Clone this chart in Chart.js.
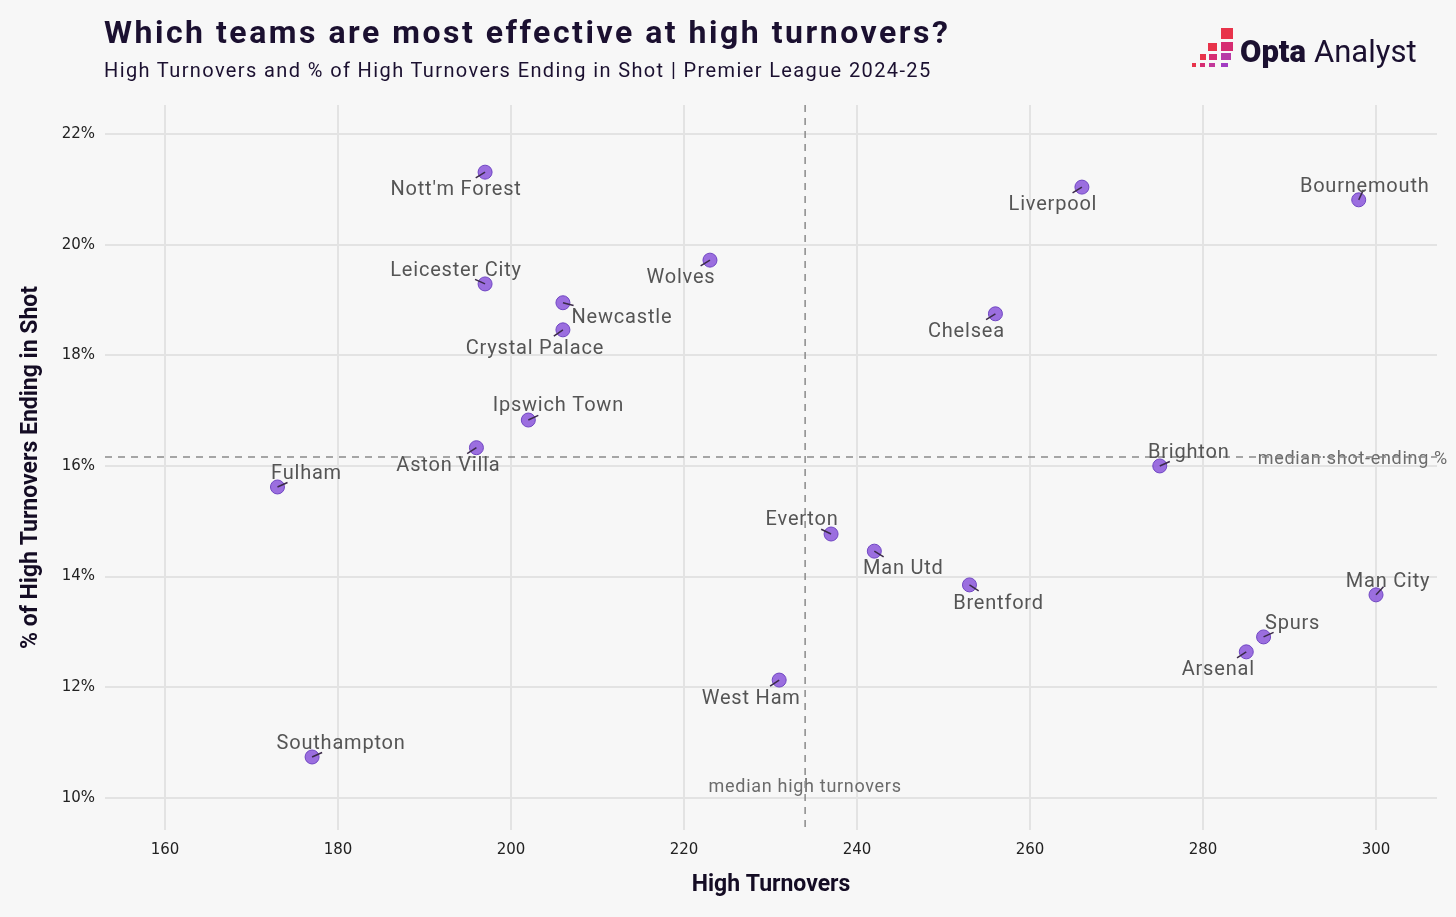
<!DOCTYPE html>
<html>
<head>
<meta charset="utf-8">
<script src="https://cdn.jsdelivr.net/npm/chart.js@4"></script>
<style>
html, body { margin: 0; padding: 0; background: #f7f7f7; }
#wrap { position: relative; width: 1456px; height: 917px; overflow: hidden; }
#graficoTurnovers { position: absolute; left: 0; top: 0; }
h1 { position: absolute; left: 104px; top: 16px; margin: 0; font: 700 32px/1 Roboto, sans-serif; color: #1b1030; white-space: nowrap; }
.sub { position: absolute; left: 104px; top: 60px; font: 400 20px/1 Roboto, sans-serif; color: #1b1030; white-space: nowrap; }
.logo { position: absolute; left: 1190px; top: 26px; }
</style>
</head>
<body>
<div id="wrap">
  <canvas id="graficoTurnovers" width="1456" height="917"></canvas>
  <h1 id="titulo" data-w="846">Which teams are most effective at high turnovers?</h1>
  <div class="sub" id="subtitulo" data-w="828">High Turnovers and % of High Turnovers Ending in Shot | Premier League 2024-25</div>
  <svg class="logo" width="240" height="48" viewBox="0 0 240 48">
    <rect x="31" y="2" width="12" height="11" fill="#e8334a"/>
    <rect x="18" y="17" width="9" height="8" fill="#e8334a"/>
    <rect x="31" y="16" width="12" height="9" fill="#d62c72"/>
    <rect x="10" y="28" width="6" height="6" fill="#e8334a"/>
    <rect x="19" y="28" width="8" height="6" fill="#d62c72"/>
    <rect x="31" y="27" width="10" height="7" fill="#b83aa6"/>
    <rect x="2" y="37" width="4" height="4" fill="#e8334a"/>
    <rect x="10" y="37" width="5" height="4" fill="#d62c72"/>
    <rect x="19" y="37" width="6" height="4" fill="#c2379a"/>
    <rect x="31" y="37" width="7" height="4" fill="#a23cc2"/>
    <text x="50" y="36" font-family="Roboto" font-weight="900" font-size="31" fill="#1b1030">Opta</text>
    <text x="124" y="36" font-family="Roboto" font-weight="400" font-size="31" fill="#1b1030">Analyst</text>
  </svg>
</div>
<script>
document.addEventListener("DOMContentLoaded", () => {

    // datos del grafico
    const equipos = ["Nott'm Forest", "Liverpool", "Bournemouth", "Wolves", "Leicester City",
        "Newcastle", "Crystal Palace", "Chelsea", "Ipswich Town", "Aston Villa",
        "Fulham", "Brighton", "Everton", "Man Utd", "Brentford",
        "Man City", "Spurs", "Arsenal", "West Ham", "Southampton"];
    const highTurnovers = [197, 266, 298, 223, 197, 206, 206, 256, 202, 196,
        173, 275, 237, 242, 253, 300, 287, 285, 231, 177];
    const pctShot = [21.31, 21.04, 20.81, 19.72, 19.29, 18.95, 18.46, 18.75, 16.83, 16.33,
        15.62, 16.0, 14.77, 14.46, 13.85, 13.67, 12.91, 12.64, 12.13, 10.74];
    const xTicks = [160, 180, 200, 220, 240, 260, 280, 300];
    const yTicks = [10, 12, 14, 16, 18, 20, 22];
    const medianaTurnovers = 234;
    const medianaPct = 16.16;

    // ajustamos el ancho de titulo y subtitulo con letter-spacing
    ["#titulo", "#subtitulo"].forEach(sel => {
        const el = document.querySelector(sel);
        const extra = (Number(el.dataset.w) - el.offsetWidth) / el.textContent.length;
        el.style.letterSpacing = extra + 'px';
    });

    // posicion de cada etiqueta respecto al punto (px)
    const offsets = {
        "Nott'm Forest": [-29, 18], "Liverpool": [-29, 18], "Bournemouth": [6, -13],
        "Wolves": [-29, 18], "Leicester City": [-29, -13], "Newcastle": [59, 15],
        "Crystal Palace": [-28, 19], "Chelsea": [-29, 18], "Ipswich Town": [30, -14],
        "Aston Villa": [-28, 18], "Fulham": [29, -13], "Brighton": [29, -13],
        "Everton": [-29, -14], "Man Utd": [29, 18], "Brentford": [29, 19],
        "Man City": [12, -13], "Spurs": [29, -13], "Arsenal": [-28, 18],
        "West Ham": [-28, 19], "Southampton": [29, -13]
    };

    const puntos = highTurnovers.map((v, i) => ({ x: v, y: pctShot[i] }));

    const medianas = {
        id: 'medianas',
        beforeDatasetsDraw(chart) {
            const { ctx, chartArea: a, scales: { x, y } } = chart;
            const px = x.getPixelForValue(medianaTurnovers);
            const py = y.getPixelForValue(medianaPct);
            ctx.save();
            ctx.font = '18px Roboto';
            ctx.letterSpacing = '0.7px';
            ctx.fillStyle = '#6b6b6b';
            ctx.textBaseline = 'middle';
            ctx.textAlign = 'center';
            ctx.fillText('median high turnovers', px, y.getPixelForValue(10.24) + 3);
            ctx.textAlign = 'right';
            ctx.fillText('median·shot-ending %', 1448, py + 2);
            ctx.letterSpacing = '0px';
            ctx.strokeStyle = '#8a8a8a';
            ctx.lineWidth = 1.5;
            ctx.setLineDash([7, 6]);
            ctx.beginPath();
            ctx.moveTo(px, a.top);
            ctx.lineTo(px, a.bottom);
            ctx.moveTo(a.left, py);
            ctx.lineTo(a.right, py);
            ctx.stroke();
            ctx.restore();
        }
    };

    const etiquetas = {
        id: 'etiquetas',
        afterDatasetsDraw(chart) {
            const { ctx } = chart;
            const meta = chart.getDatasetMeta(0);
            ctx.save();
            meta.data.forEach((pt, i) => {
                const off = offsets[equipos[i]];
                const len = Math.hypot(off[0], off[1]);
                //linea guia
                ctx.strokeStyle = '#3a2a48';
                ctx.lineWidth = 1.5;
                ctx.beginPath();
                ctx.moveTo(pt.x, pt.y);
                ctx.lineTo(pt.x + off[0] / len * 11, pt.y + off[1] / len * 11);
                ctx.stroke();
                ctx.font = '20px Roboto';
                ctx.letterSpacing = '0.8px';
                ctx.fillStyle = '#555555';
                ctx.textAlign = 'center';
                ctx.textBaseline = 'middle';
                ctx.fillText(equipos[i], pt.x + off[0], pt.y + off[1]);
            });
            ctx.letterSpacing = '0px';
            ctx.restore();
        }
    };

    new Chart(document.querySelector("#graficoTurnovers"), {
        type: 'scatter',
        data: {
            datasets: [{
                label: 'Equipos',
                data: puntos,
                backgroundColor: 'rgba(146, 98, 220, 0.92)',
                borderColor: '#6f45c2',
                borderWidth: 1,
                pointRadius: 7
            }]
        },
        options: {
            responsive: false,
            animation: false,
            devicePixelRatio: 1,
            layout: { padding: { top: 105, right: 19, left: 0, bottom: 0 } },
            plugins: { legend: { display: false }, tooltip: { enabled: false } },
            scales: {
                x: {
                    min: 153.06, max: 307.05,
                    afterBuildTicks: s => { s.ticks = xTicks.map(v => ({ value: v })); },
                    afterFit: s => { s.height = 87; },
                    grid: { color: '#e3e3e3', lineWidth: 2, drawTicks: false },
                    border: { display: false },
                    ticks: { padding: 11, color: '#222', font: { family: 'DejaVu Sans', size: 15 } },
                    title: { display: true, text: 'High Turnovers', color: '#140c24', padding: { bottom: 18 },
                        font: { family: 'Roboto', weight: 'bold', size: 23 } }
                },
                y: {
                    min: 9.42, max: 22.524,
                    afterBuildTicks: s => { s.ticks = yTicks.map(v => ({ value: v })); },
                    afterFit: s => { s.width = 105; },
                    grid: { color: '#e3e3e3', lineWidth: 2, drawTicks: false },
                    border: { display: false },
                    ticks: { padding: 10, color: '#222', font: { family: 'DejaVu Sans', size: 15 },
                        callback: v => v + '%' },
                    title: { display: true, text: '% of High Turnovers Ending in Shot', color: '#140c24', padding: { top: 17 },
                        font: { family: 'Roboto', weight: 'bold', size: 23 } }
                }
            }
        },
        plugins: [medianas, etiquetas]
    });
});
</script>
</body>
</html>
